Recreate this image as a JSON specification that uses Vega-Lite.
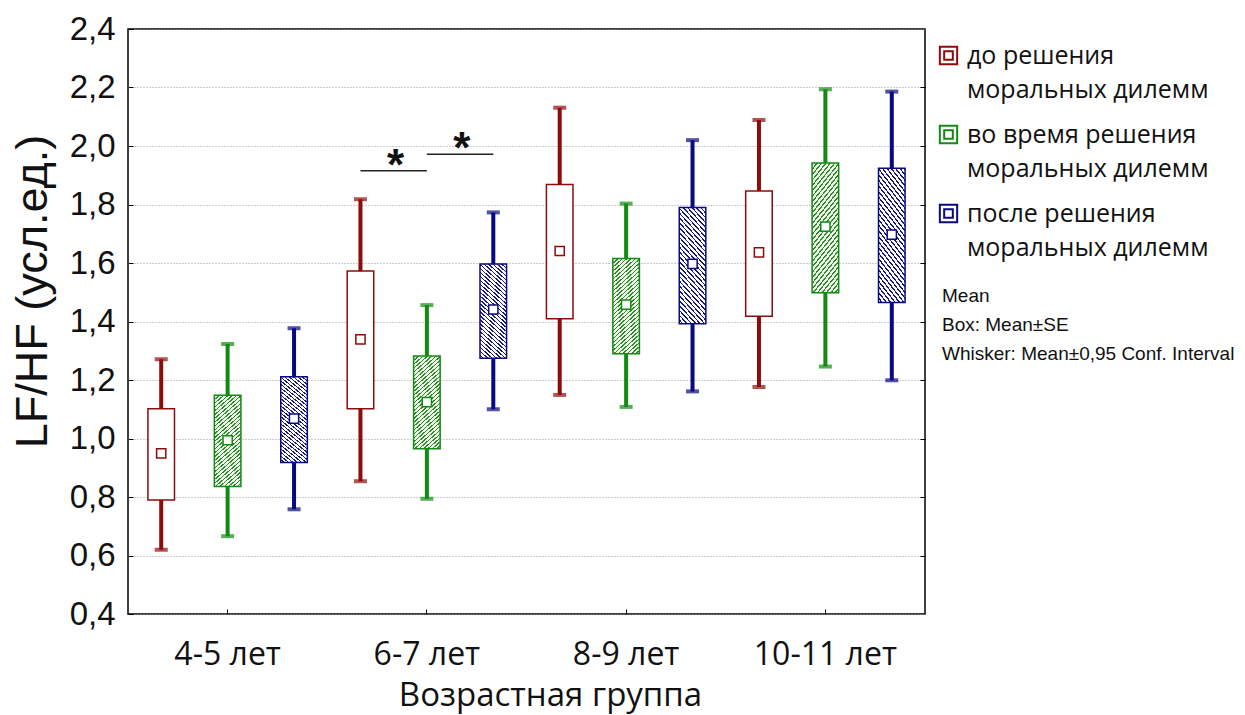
{
  "$schema": "https://vega.github.io/schema/vega-lite/v6.json",
  "width": 797,
  "height": 585,
  "autosize": {"type": "none"},
  "padding": {"left": 128, "top": 29, "right": 320, "bottom": 101},
  "background": "white",
  "datasets": {
    "boxes": [
      {"group": "4-5 лет", "series": "до решения моральных дилемм", "lo": 0.620, "blo": 0.790, "mean": 0.949, "bhi": 1.102, "hi": 1.271},
      {"group": "4-5 лет", "series": "во время решения моральных дилемм", "lo": 0.666, "blo": 0.836, "mean": 0.994, "bhi": 1.148, "hi": 1.323},
      {"group": "4-5 лет", "series": "после решения моральных дилемм", "lo": 0.758, "blo": 0.918, "mean": 1.068, "bhi": 1.211, "hi": 1.377},
      {"group": "6-7 лет", "series": "до решения моральных дилемм", "lo": 0.854, "blo": 1.102, "mean": 1.339, "bhi": 1.573, "hi": 1.818},
      {"group": "6-7 лет", "series": "во время решения моральных дилемм", "lo": 0.794, "blo": 0.965, "mean": 1.124, "bhi": 1.282, "hi": 1.456},
      {"group": "6-7 лет", "series": "после решения моральных дилемм", "lo": 1.100, "blo": 1.274, "mean": 1.441, "bhi": 1.597, "hi": 1.773},
      {"group": "8-9 лет", "series": "до решения моральных дилемм", "lo": 1.149, "blo": 1.409, "mean": 1.641, "bhi": 1.868, "hi": 2.131},
      {"group": "8-9 лет", "series": "во время решения моральных дилемм", "lo": 1.108, "blo": 1.290, "mean": 1.458, "bhi": 1.615, "hi": 1.803},
      {"group": "8-9 лет", "series": "после решения моральных дилемм", "lo": 1.161, "blo": 1.392, "mean": 1.597, "bhi": 1.790, "hi": 2.020},
      {"group": "10-11 лет", "series": "до решения моральных дилемм", "lo": 1.176, "blo": 1.418, "mean": 1.636, "bhi": 1.846, "hi": 2.089},
      {"group": "10-11 лет", "series": "во время решения моральных дилемм", "lo": 1.246, "blo": 1.498, "mean": 1.724, "bhi": 1.942, "hi": 2.194},
      {"group": "10-11 лет", "series": "после решения моральных дилемм", "lo": 1.199, "blo": 1.465, "mean": 1.697, "bhi": 1.924, "hi": 2.186}
    ],
    "siglines": [
      {"group": "6-7 лет", "series": "до решения моральных дилемм", "level": 1.915, "pair": "a"},
      {"group": "6-7 лет", "series": "во время решения моральных дилемм", "level": 1.915, "pair": "a"},
      {"group": "6-7 лет", "series": "во время решения моральных дилемм", "level": 1.972, "pair": "b"},
      {"group": "6-7 лет", "series": "после решения моральных дилемм", "level": 1.972, "pair": "b"}
    ],
    "stars": [
      {"group": "6-7 лет", "series": "до решения моральных дилемм", "level": 1.915, "mark": "*"},
      {"group": "6-7 лет", "series": "во время решения моральных дилемм", "level": 1.972, "mark": "*"}
    ],
    "notes": [
      {"note": "Mean"},
      {"note": "Box: Mean±SE"},
      {"note": "Whisker: Mean±0,95 Conf. Interval"}
    ]
  },
  "resolve": {"axis": {"y": "independent"}, "scale": {"stroke": "independent", "shape": "independent"}, "legend": {"stroke": "independent", "shape": "independent"}},
  "layer": [
    {
      "data": {"name": "boxes"},
      "mark": {"type": "rule", "strokeWidth": 4, "strokeCap": "butt"},
      "encoding": {
        "x": {
          "field": "group", "type": "nominal",
          "sort": ["4-5 лет", "6-7 лет", "8-9 лет", "10-11 лет"],
          "scale": {"domain": ["4-5 лет", "6-7 лет", "8-9 лет", "10-11 лет"], "paddingInner": 0, "paddingOuter": 0},
          "axis": {
            "title": "Возрастная группа", "labelAngle": 0,
            "labelFont": "Open Sans", "labelFontSize": 32, "labelColor": "#111", "labelPadding": 30,
            "titleFont": "Open Sans", "titleFontSize": 33, "titleFontWeight": "normal", "titleColor": "#111", "titlePadding": 9,
            "titleX": 422,
            "tickSize": -5, "tickColor": "#000", "domain": false, "grid": false
          }
        },
        "xOffset": {
          "field": "series", "type": "nominal",
          "scale": {"domain": ["до решения моральных дилемм", "во время решения моральных дилемм", "после решения моральных дилемм"], "paddingInner": 0.6, "paddingOuter": 0.3}
        },
        "y": {
          "field": "lo", "type": "quantitative",
          "scale": {"domain": [0.4, 2.4], "nice": false, "zero": false},
          "axis": {
            "title": "LF/HF (усл.ед.)",
            "values": [0.4, 0.6, 0.8, 1.0, 1.2, 1.4, 1.6, 1.8, 2.0, 2.2, 2.4],
            "labelExpr": "replace(format(datum.value, '.1f'), '.', ',')",
            "labelFont": "Liberation Sans", "labelFontSize": 33, "labelColor": "#111", "labelPadding": 18,
            "titleFont": "Liberation Sans", "titleFontSize": 45, "titleFontWeight": "normal", "titleColor": "#111", "titlePadding": 14,
            "titleY": 262,
            "tickSize": -5, "tickColor": "#000", "domain": false,
            "grid": true, "gridColor": "#9a9a9a", "gridDash": [1, 2], "gridWidth": 1
          }
        },
        "y2": {"field": "hi"},
        "color": {
          "field": "series", "type": "nominal",
          "scale": {
            "domain": ["до решения моральных дилемм", "во время решения моральных дилемм", "после решения моральных дилемм"],
            "range": ["#8e0b0b", "#138a13", "#0a0a80"]
          },
          "legend": null
        }
      }
    },
    {
      "data": {"name": "boxes"},
      "mark": {"type": "tick", "orient": "horizontal", "size": 13, "thickness": 4},
      "encoding": {
        "x": {"field": "group", "type": "nominal", "sort": ["4-5 лет", "6-7 лет", "8-9 лет", "10-11 лет"]},
        "xOffset": {"field": "series", "type": "nominal"},
        "y": {"field": "lo", "type": "quantitative", "axis": null},
        "color": {"field": "series", "type": "nominal", "legend": null}
      }
    },
    {
      "data": {"name": "boxes"},
      "mark": {"type": "tick", "orient": "horizontal", "size": 13, "thickness": 4},
      "encoding": {
        "x": {"field": "group", "type": "nominal", "sort": ["4-5 лет", "6-7 лет", "8-9 лет", "10-11 лет"]},
        "xOffset": {"field": "series", "type": "nominal"},
        "y": {"field": "hi", "type": "quantitative", "axis": null},
        "color": {"field": "series", "type": "nominal", "legend": null}
      }
    },
    {
      "data": {"name": "boxes"},
      "mark": {"type": "bar", "strokeWidth": 1.5},
      "encoding": {
        "x": {"field": "group", "type": "nominal", "sort": ["4-5 лет", "6-7 лет", "8-9 лет", "10-11 лет"]},
        "xOffset": {"field": "series", "type": "nominal"},
        "y": {
          "field": "blo", "type": "quantitative",
          "axis": {"orient": "right", "title": null, "labels": false, "domain": false, "grid": false, "tickSize": -5, "tickColor": "#000", "values": [0.6, 0.8, 1.0, 1.2, 1.4, 1.6, 1.8, 2.0, 2.2]}
        },
        "y2": {"field": "bhi"},
        "stroke": {
          "field": "series", "type": "nominal",
          "scale": {
            "domain": ["до решения моральных дилемм", "во время решения моральных дилемм", "после решения моральных дилемм"],
            "range": ["#8e0b0b", "#138a13", "#0a0a80"]
          },
          "legend": null
        },
        "fill": {
          "condition": [
            {
              "test": "datum.series === 'во время решения моральных дилемм'",
              "value": {
                "gradient": "linear", "x1": 0, "y1": 0, "x2": 0.298, "y2": 1.178,
                "stops": [
                  {"offset": 0, "color": "#2e8b2e"}, {"offset": 0.012, "color": "#2e8b2e"}, {"offset": 0.012, "color": "#eef7e8"}, {"offset": 0.0333, "color": "#eef7e8"},
                  {"offset": 0.0333, "color": "#2e8b2e"}, {"offset": 0.0453, "color": "#2e8b2e"}, {"offset": 0.0453, "color": "#eef7e8"}, {"offset": 0.0667, "color": "#eef7e8"},
                  {"offset": 0.0667, "color": "#2e8b2e"}, {"offset": 0.0787, "color": "#2e8b2e"}, {"offset": 0.0787, "color": "#eef7e8"}, {"offset": 0.1, "color": "#eef7e8"},
                  {"offset": 0.1, "color": "#2e8b2e"}, {"offset": 0.112, "color": "#2e8b2e"}, {"offset": 0.112, "color": "#eef7e8"}, {"offset": 0.1333, "color": "#eef7e8"},
                  {"offset": 0.1333, "color": "#2e8b2e"}, {"offset": 0.1453, "color": "#2e8b2e"}, {"offset": 0.1453, "color": "#eef7e8"}, {"offset": 0.1667, "color": "#eef7e8"},
                  {"offset": 0.1667, "color": "#2e8b2e"}, {"offset": 0.1787, "color": "#2e8b2e"}, {"offset": 0.1787, "color": "#eef7e8"}, {"offset": 0.2, "color": "#eef7e8"},
                  {"offset": 0.2, "color": "#2e8b2e"}, {"offset": 0.212, "color": "#2e8b2e"}, {"offset": 0.212, "color": "#eef7e8"}, {"offset": 0.2333, "color": "#eef7e8"},
                  {"offset": 0.2333, "color": "#2e8b2e"}, {"offset": 0.2453, "color": "#2e8b2e"}, {"offset": 0.2453, "color": "#eef7e8"}, {"offset": 0.2667, "color": "#eef7e8"},
                  {"offset": 0.2667, "color": "#2e8b2e"}, {"offset": 0.2787, "color": "#2e8b2e"}, {"offset": 0.2787, "color": "#eef7e8"}, {"offset": 0.3, "color": "#eef7e8"},
                  {"offset": 0.3, "color": "#2e8b2e"}, {"offset": 0.312, "color": "#2e8b2e"}, {"offset": 0.312, "color": "#eef7e8"}, {"offset": 0.3333, "color": "#eef7e8"},
                  {"offset": 0.3333, "color": "#2e8b2e"}, {"offset": 0.3453, "color": "#2e8b2e"}, {"offset": 0.3453, "color": "#eef7e8"}, {"offset": 0.3667, "color": "#eef7e8"},
                  {"offset": 0.3667, "color": "#2e8b2e"}, {"offset": 0.3787, "color": "#2e8b2e"}, {"offset": 0.3787, "color": "#eef7e8"}, {"offset": 0.4, "color": "#eef7e8"},
                  {"offset": 0.4, "color": "#2e8b2e"}, {"offset": 0.412, "color": "#2e8b2e"}, {"offset": 0.412, "color": "#eef7e8"}, {"offset": 0.4333, "color": "#eef7e8"},
                  {"offset": 0.4333, "color": "#2e8b2e"}, {"offset": 0.4453, "color": "#2e8b2e"}, {"offset": 0.4453, "color": "#eef7e8"}, {"offset": 0.4667, "color": "#eef7e8"},
                  {"offset": 0.4667, "color": "#2e8b2e"}, {"offset": 0.4787, "color": "#2e8b2e"}, {"offset": 0.4787, "color": "#eef7e8"}, {"offset": 0.5, "color": "#eef7e8"},
                  {"offset": 0.5, "color": "#2e8b2e"}, {"offset": 0.512, "color": "#2e8b2e"}, {"offset": 0.512, "color": "#eef7e8"}, {"offset": 0.5333, "color": "#eef7e8"},
                  {"offset": 0.5333, "color": "#2e8b2e"}, {"offset": 0.5453, "color": "#2e8b2e"}, {"offset": 0.5453, "color": "#eef7e8"}, {"offset": 0.5667, "color": "#eef7e8"},
                  {"offset": 0.5667, "color": "#2e8b2e"}, {"offset": 0.5787, "color": "#2e8b2e"}, {"offset": 0.5787, "color": "#eef7e8"}, {"offset": 0.6, "color": "#eef7e8"},
                  {"offset": 0.6, "color": "#2e8b2e"}, {"offset": 0.612, "color": "#2e8b2e"}, {"offset": 0.612, "color": "#eef7e8"}, {"offset": 0.6333, "color": "#eef7e8"},
                  {"offset": 0.6333, "color": "#2e8b2e"}, {"offset": 0.6453, "color": "#2e8b2e"}, {"offset": 0.6453, "color": "#eef7e8"}, {"offset": 0.6667, "color": "#eef7e8"},
                  {"offset": 0.6667, "color": "#2e8b2e"}, {"offset": 0.6787, "color": "#2e8b2e"}, {"offset": 0.6787, "color": "#eef7e8"}, {"offset": 0.7, "color": "#eef7e8"},
                  {"offset": 0.7, "color": "#2e8b2e"}, {"offset": 0.712, "color": "#2e8b2e"}, {"offset": 0.712, "color": "#eef7e8"}, {"offset": 0.7333, "color": "#eef7e8"},
                  {"offset": 0.7333, "color": "#2e8b2e"}, {"offset": 0.7453, "color": "#2e8b2e"}, {"offset": 0.7453, "color": "#eef7e8"}, {"offset": 0.7667, "color": "#eef7e8"},
                  {"offset": 0.7667, "color": "#2e8b2e"}, {"offset": 0.7787, "color": "#2e8b2e"}, {"offset": 0.7787, "color": "#eef7e8"}, {"offset": 0.8, "color": "#eef7e8"},
                  {"offset": 0.8, "color": "#2e8b2e"}, {"offset": 0.812, "color": "#2e8b2e"}, {"offset": 0.812, "color": "#eef7e8"}, {"offset": 0.8333, "color": "#eef7e8"},
                  {"offset": 0.8333, "color": "#2e8b2e"}, {"offset": 0.8453, "color": "#2e8b2e"}, {"offset": 0.8453, "color": "#eef7e8"}, {"offset": 0.8667, "color": "#eef7e8"},
                  {"offset": 0.8667, "color": "#2e8b2e"}, {"offset": 0.8787, "color": "#2e8b2e"}, {"offset": 0.8787, "color": "#eef7e8"}, {"offset": 0.9, "color": "#eef7e8"},
                  {"offset": 0.9, "color": "#2e8b2e"}, {"offset": 0.912, "color": "#2e8b2e"}, {"offset": 0.912, "color": "#eef7e8"}, {"offset": 0.9333, "color": "#eef7e8"},
                  {"offset": 0.9333, "color": "#2e8b2e"}, {"offset": 0.9453, "color": "#2e8b2e"}, {"offset": 0.9453, "color": "#eef7e8"}, {"offset": 0.9667, "color": "#eef7e8"},
                  {"offset": 0.9667, "color": "#2e8b2e"}, {"offset": 0.9787, "color": "#2e8b2e"}, {"offset": 0.9787, "color": "#eef7e8"}, {"offset": 1, "color": "#eef7e8"}
                ]
              }
            },
            {
              "test": "datum.series === 'после решения моральных дилемм'",
              "value": {
                "gradient": "linear", "x1": 1, "y1": 0, "x2": 0.702, "y2": 1.178,
                "stops": [
                  {"offset": 0, "color": "#1a1a7e"}, {"offset": 0.012, "color": "#1a1a7e"}, {"offset": 0.012, "color": "#ffffff"}, {"offset": 0.0333, "color": "#ffffff"},
                  {"offset": 0.0333, "color": "#1a1a7e"}, {"offset": 0.0453, "color": "#1a1a7e"}, {"offset": 0.0453, "color": "#ffffff"}, {"offset": 0.0667, "color": "#ffffff"},
                  {"offset": 0.0667, "color": "#1a1a7e"}, {"offset": 0.0787, "color": "#1a1a7e"}, {"offset": 0.0787, "color": "#ffffff"}, {"offset": 0.1, "color": "#ffffff"},
                  {"offset": 0.1, "color": "#1a1a7e"}, {"offset": 0.112, "color": "#1a1a7e"}, {"offset": 0.112, "color": "#ffffff"}, {"offset": 0.1333, "color": "#ffffff"},
                  {"offset": 0.1333, "color": "#1a1a7e"}, {"offset": 0.1453, "color": "#1a1a7e"}, {"offset": 0.1453, "color": "#ffffff"}, {"offset": 0.1667, "color": "#ffffff"},
                  {"offset": 0.1667, "color": "#1a1a7e"}, {"offset": 0.1787, "color": "#1a1a7e"}, {"offset": 0.1787, "color": "#ffffff"}, {"offset": 0.2, "color": "#ffffff"},
                  {"offset": 0.2, "color": "#1a1a7e"}, {"offset": 0.212, "color": "#1a1a7e"}, {"offset": 0.212, "color": "#ffffff"}, {"offset": 0.2333, "color": "#ffffff"},
                  {"offset": 0.2333, "color": "#1a1a7e"}, {"offset": 0.2453, "color": "#1a1a7e"}, {"offset": 0.2453, "color": "#ffffff"}, {"offset": 0.2667, "color": "#ffffff"},
                  {"offset": 0.2667, "color": "#1a1a7e"}, {"offset": 0.2787, "color": "#1a1a7e"}, {"offset": 0.2787, "color": "#ffffff"}, {"offset": 0.3, "color": "#ffffff"},
                  {"offset": 0.3, "color": "#1a1a7e"}, {"offset": 0.312, "color": "#1a1a7e"}, {"offset": 0.312, "color": "#ffffff"}, {"offset": 0.3333, "color": "#ffffff"},
                  {"offset": 0.3333, "color": "#1a1a7e"}, {"offset": 0.3453, "color": "#1a1a7e"}, {"offset": 0.3453, "color": "#ffffff"}, {"offset": 0.3667, "color": "#ffffff"},
                  {"offset": 0.3667, "color": "#1a1a7e"}, {"offset": 0.3787, "color": "#1a1a7e"}, {"offset": 0.3787, "color": "#ffffff"}, {"offset": 0.4, "color": "#ffffff"},
                  {"offset": 0.4, "color": "#1a1a7e"}, {"offset": 0.412, "color": "#1a1a7e"}, {"offset": 0.412, "color": "#ffffff"}, {"offset": 0.4333, "color": "#ffffff"},
                  {"offset": 0.4333, "color": "#1a1a7e"}, {"offset": 0.4453, "color": "#1a1a7e"}, {"offset": 0.4453, "color": "#ffffff"}, {"offset": 0.4667, "color": "#ffffff"},
                  {"offset": 0.4667, "color": "#1a1a7e"}, {"offset": 0.4787, "color": "#1a1a7e"}, {"offset": 0.4787, "color": "#ffffff"}, {"offset": 0.5, "color": "#ffffff"},
                  {"offset": 0.5, "color": "#1a1a7e"}, {"offset": 0.512, "color": "#1a1a7e"}, {"offset": 0.512, "color": "#ffffff"}, {"offset": 0.5333, "color": "#ffffff"},
                  {"offset": 0.5333, "color": "#1a1a7e"}, {"offset": 0.5453, "color": "#1a1a7e"}, {"offset": 0.5453, "color": "#ffffff"}, {"offset": 0.5667, "color": "#ffffff"},
                  {"offset": 0.5667, "color": "#1a1a7e"}, {"offset": 0.5787, "color": "#1a1a7e"}, {"offset": 0.5787, "color": "#ffffff"}, {"offset": 0.6, "color": "#ffffff"},
                  {"offset": 0.6, "color": "#1a1a7e"}, {"offset": 0.612, "color": "#1a1a7e"}, {"offset": 0.612, "color": "#ffffff"}, {"offset": 0.6333, "color": "#ffffff"},
                  {"offset": 0.6333, "color": "#1a1a7e"}, {"offset": 0.6453, "color": "#1a1a7e"}, {"offset": 0.6453, "color": "#ffffff"}, {"offset": 0.6667, "color": "#ffffff"},
                  {"offset": 0.6667, "color": "#1a1a7e"}, {"offset": 0.6787, "color": "#1a1a7e"}, {"offset": 0.6787, "color": "#ffffff"}, {"offset": 0.7, "color": "#ffffff"},
                  {"offset": 0.7, "color": "#1a1a7e"}, {"offset": 0.712, "color": "#1a1a7e"}, {"offset": 0.712, "color": "#ffffff"}, {"offset": 0.7333, "color": "#ffffff"},
                  {"offset": 0.7333, "color": "#1a1a7e"}, {"offset": 0.7453, "color": "#1a1a7e"}, {"offset": 0.7453, "color": "#ffffff"}, {"offset": 0.7667, "color": "#ffffff"},
                  {"offset": 0.7667, "color": "#1a1a7e"}, {"offset": 0.7787, "color": "#1a1a7e"}, {"offset": 0.7787, "color": "#ffffff"}, {"offset": 0.8, "color": "#ffffff"},
                  {"offset": 0.8, "color": "#1a1a7e"}, {"offset": 0.812, "color": "#1a1a7e"}, {"offset": 0.812, "color": "#ffffff"}, {"offset": 0.8333, "color": "#ffffff"},
                  {"offset": 0.8333, "color": "#1a1a7e"}, {"offset": 0.8453, "color": "#1a1a7e"}, {"offset": 0.8453, "color": "#ffffff"}, {"offset": 0.8667, "color": "#ffffff"},
                  {"offset": 0.8667, "color": "#1a1a7e"}, {"offset": 0.8787, "color": "#1a1a7e"}, {"offset": 0.8787, "color": "#ffffff"}, {"offset": 0.9, "color": "#ffffff"},
                  {"offset": 0.9, "color": "#1a1a7e"}, {"offset": 0.912, "color": "#1a1a7e"}, {"offset": 0.912, "color": "#ffffff"}, {"offset": 0.9333, "color": "#ffffff"},
                  {"offset": 0.9333, "color": "#1a1a7e"}, {"offset": 0.9453, "color": "#1a1a7e"}, {"offset": 0.9453, "color": "#ffffff"}, {"offset": 0.9667, "color": "#ffffff"},
                  {"offset": 0.9667, "color": "#1a1a7e"}, {"offset": 0.9787, "color": "#1a1a7e"}, {"offset": 0.9787, "color": "#ffffff"}, {"offset": 1, "color": "#ffffff"}
                ]
              }
            }
          ],
          "value": "#ffffff"
        }
      }
    },
    {
      "data": {"name": "boxes"},
      "mark": {"type": "point", "shape": "square", "size": 85, "filled": true, "fill": "white", "strokeWidth": 1.5, "opacity": 1},
      "encoding": {
        "x": {"field": "group", "type": "nominal", "sort": ["4-5 лет", "6-7 лет", "8-9 лет", "10-11 лет"]},
        "xOffset": {"field": "series", "type": "nominal"},
        "y": {"field": "mean", "type": "quantitative", "axis": null},
        "stroke": {
          "field": "series", "type": "nominal",
          "scale": {
            "domain": ["до решения моральных дилемм", "во время решения моральных дилемм", "после решения моральных дилемм"],
            "range": ["#8e0b0b", "#138a13", "#0a0a80"]
          },
          "legend": {
            "orient": "right", "offset": -4, "title": null, "padding": 14,
            "symbolType": "M-1,-1H1V1H-1Z M-0.5,-0.5H0.5V0.5H-0.5Z", "symbolSize": 300, "symbolStrokeWidth": 2,
            "symbolFillColor": "#ffffff", "symbolOpacity": 1,
            "labelFont": "Open Sans", "labelFontSize": 25, "labelColor": "#111", "labelLimit": 400, "labelOffset": 6,
            "labelExpr": "split(replace(datum.label, 'решения ', 'решения|'), '|')",
            "rowPadding": 18
          }
        }
      }
    },
    {
      "data": {"name": "siglines"},
      "mark": {"type": "line", "stroke": "#222", "strokeWidth": 1.5},
      "encoding": {
        "x": {"field": "group", "type": "nominal", "sort": ["4-5 лет", "6-7 лет", "8-9 лет", "10-11 лет"]},
        "xOffset": {"field": "series", "type": "nominal"},
        "y": {"field": "level", "type": "quantitative", "axis": null},
        "detail": {"field": "pair", "type": "nominal"}
      }
    },
    {
      "data": {"name": "stars"},
      "mark": {"type": "text", "font": "Liberation Sans", "fontSize": 44, "fontWeight": "bold", "color": "#111", "align": "center", "baseline": "alphabetic", "dx": 35, "dy": 9},
      "encoding": {
        "x": {"field": "group", "type": "nominal", "sort": ["4-5 лет", "6-7 лет", "8-9 лет", "10-11 лет"]},
        "xOffset": {"field": "series", "type": "nominal"},
        "y": {"field": "level", "type": "quantitative", "axis": null},
        "text": {"field": "mark"}
      }
    },
    {
      "data": {"name": "notes"},
      "mark": {"type": "point", "opacity": 0},
      "encoding": {
        "shape": {
          "field": "note", "type": "nominal",
          "scale": {"domain": ["Mean", "Box: Mean±SE", "Whisker: Mean±0,95 Conf. Interval"], "range": ["square", "square", "square"]},
          "legend": {
            "orient": "right", "offset": -4, "title": null, "padding": 3, "symbolSize": 0, "symbolOpacity": 0, "symbolStrokeWidth": 0,
            "labelFont": "Liberation Sans", "labelFontSize": 19, "labelColor": "#111", "labelOffset": -2, "labelLimit": 400, "rowPadding": 9
          }
        }
      }
    }
  ],
  "config": {
    "view": {"stroke": "#000", "strokeWidth": 1.5},
    "style": {"guide-label": {"lineHeight": 34}}
  }
}
